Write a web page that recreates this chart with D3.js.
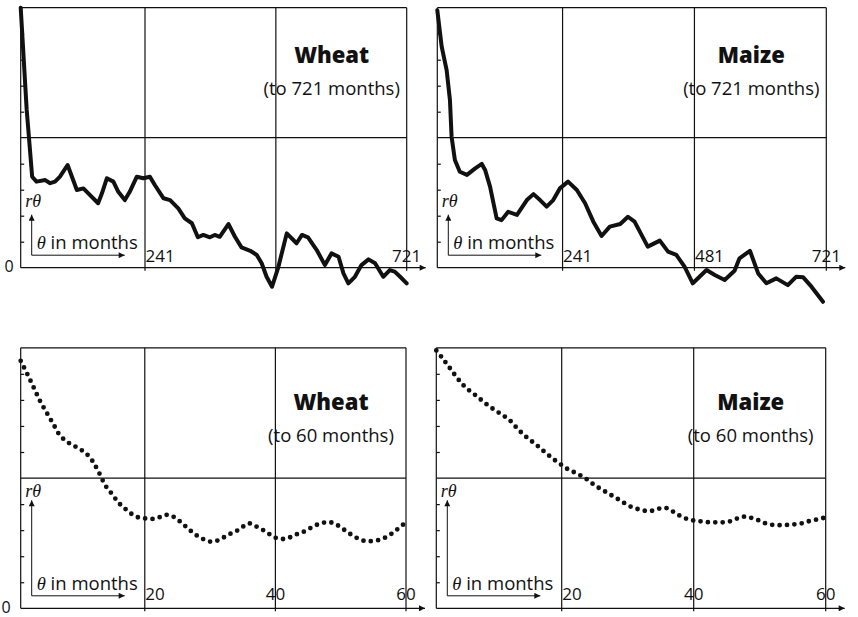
<!DOCTYPE html>
<html>
<head>
<meta charset="utf-8">
<script src="https://cdn.jsdelivr.net/npm/d3@7"></script>
<style>
  body { margin: 0; background: #fff; }
  svg { display: block; }
  text { font-family: "Open Sans", sans-serif; fill: #111; }
</style>
</head>
<body>
<svg id="chart"></svg>
<script>
const svgWidth = 858, svgHeight = 617;

// long correlograms (lag in months -> r)
const wheatLongLag = [13,24,30,34,42,58,67,76,85,99,107,116,128,137,155,162,171,183,192,204,213,226,238,250,259,275,287,302,314,327,338,348,360,369,378,394,406,418,434,446,455,464,474,485,501,519,529,540,556,571,583,596,605,614,626,638,651,663,678,690,699,709,721];
const wheatLongR = [1.0,0.607,0.453,0.35,0.331,0.337,0.325,0.331,0.35,0.395,0.35,0.299,0.305,0.286,0.248,0.286,0.344,0.331,0.292,0.26,0.292,0.35,0.344,0.35,0.318,0.267,0.26,0.228,0.19,0.171,0.117,0.126,0.117,0.126,0.119,0.168,0.119,0.078,0.065,0.049,0.017,-0.035,-0.073,-0.002,0.132,0.094,0.126,0.117,0.068,0.01,0.055,0.042,-0.022,-0.06,-0.035,0.01,0.032,0.017,-0.035,-0.009,-0.015,-0.035,-0.06];

const maizeLongLag = [13,21,30,36,39,45,54,67,82,94,100,109,121,130,142,158,176,188,200,212,224,236,251,267,282,297,312,327,346,360,372,396,418,433,448,463,478,503,518,536,554,563,582,597,612,630,651,666,679,694,715];
const maizeLongR = [0.99,0.85,0.76,0.645,0.504,0.414,0.369,0.357,0.382,0.399,0.376,0.312,0.19,0.183,0.215,0.203,0.26,0.283,0.26,0.235,0.26,0.305,0.331,0.299,0.248,0.177,0.122,0.158,0.168,0.196,0.177,0.081,0.104,0.062,0.049,0.004,-0.06,-0.009,-0.028,-0.047,-0.012,0.036,0.065,-0.022,-0.06,-0.041,-0.067,-0.035,-0.037,-0.073,-0.131];

// short correlograms, one value per month 1..60
const months = d3.range(1, 61);
const wheatShortR = [0.95,0.90,0.847,0.794,0.75,0.707,0.664,0.641,0.626,0.612,
  0.595,0.565,0.52,0.47,0.438,0.405,0.382,0.362,0.349,0.345,
  0.343,0.347,0.358,0.356,0.341,0.32,0.298,0.279,0.265,0.256,
  0.259,0.271,0.285,0.296,0.313,0.326,0.315,0.302,0.286,0.271,
  0.266,0.27,0.282,0.29,0.303,0.317,0.326,0.331,0.326,0.311,
  0.293,0.277,0.264,0.257,0.259,0.263,0.274,0.29,0.31,0.33];
const maizeShortR = [0.99,0.958,0.924,0.89,0.859,0.836,0.817,0.796,0.776,0.759,
  0.742,0.725,0.698,0.672,0.65,0.631,0.609,0.588,0.568,0.55,
  0.533,0.521,0.508,0.492,0.472,0.457,0.442,0.427,0.412,0.396,
  0.385,0.378,0.373,0.376,0.384,0.384,0.369,0.354,0.343,0.337,
  0.334,0.331,0.33,0.33,0.331,0.338,0.349,0.352,0.345,0.336,
  0.325,0.32,0.319,0.32,0.322,0.324,0.331,0.338,0.342,0.35];

const yTicks = [0.1,0.2,0.3,0.4,0.6,0.7,0.8,0.9];

const panels = [
  {title:"Wheat", sub:"(to 721 months)", lags:wheatLongLag, r:wheatLongR, domain:[13,721],
   grid:[241,481,721], labels:[[241,"241","start"],[721,"721","middle"]],
   left:20.7, right:406.7, top:7.7, axisY:267.7, dotted:false, zero:[9,272], row:"top"},
  {title:"Maize", sub:"(to 721 months)", lags:maizeLongLag, r:maizeLongR, domain:[13,721],
   grid:[241,481,721], labels:[[241,"241","start"],[481,"481","start"],[721,"721","middle"]],
   left:437.3, right:826.3, top:7.7, axisY:267.7, dotted:false, zero:null, row:"top"},
  {title:"Wheat", sub:"(to 60 months)", lags:months, r:wheatShortR, domain:[1,60],
   grid:[20,40,60], labels:[[20,"20","start"],[40,"40","middle"],[60,"60","middle"]],
   left:20.7, right:406, top:347.8, axisY:608.3, dotted:true, zero:[6,613], row:"bottom"},
  {title:"Maize", sub:"(to 60 months)", lags:months, r:maizeShortR, domain:[1,60],
   grid:[20,40,60], labels:[[20,"20","start"],[40,"40","middle"],[60,"60","middle"]],
   left:436.3, right:825.7, top:347.8, axisY:608.3, dotted:true, zero:null, row:"bottom"}
];

const chart = d3.select("#chart")
    .attr("width", svgWidth)
    .attr("height", svgHeight);

const defs = chart.append("defs");
defs.append("marker")
    .attr("id", "arrow")
    .attr("viewBox", "0 0 10 10")
    .attr("refX", 10).attr("refY", 5)
    .attr("markerWidth", 8).attr("markerHeight", 6)
    .attr("markerUnits", "userSpaceOnUse")
    .attr("orient", "auto")
  .append("path")
    .attr("d", "M0,0L10,5L0,10z")
    .attr("fill", "#111");

panels.forEach(drawPanel);

function drawPanel(p) {
    const x = d3.scaleLinear().domain(p.domain).range([p.left, p.right]);
    const y = d3.scaleLinear().domain([0, 1]).range([p.axisY, p.top]);
    const g = chart.append("g").attr("stroke", "#111").attr("stroke-width", 1.2);

    // frame: top border, left axis, middle line
    g.append("line").attr("x1", p.left).attr("x2", p.right).attr("y1", y(1)).attr("y2", y(1));
    g.append("line").attr("x1", p.left).attr("x2", p.left).attr("y1", y(1)).attr("y2", y(0));
    g.append("line").attr("x1", p.left).attr("x2", p.right).attr("y1", y(0.5)).attr("y2", y(0.5));

    // vertical grid lines
    g.selectAll(".vgrid").data(p.grid).enter().append("line")
        .attr("x1", d => x(d)).attr("x2", d => x(d))
        .attr("y1", y(1)).attr("y2", y(0) + 3);

    // x axis with arrow
    g.append("line")
        .attr("x1", p.left).attr("x2", p.right + 19)
        .attr("y1", y(0)).attr("y2", y(0))
        .attr("marker-end", "url(#arrow)");

    // small inward ticks on the left axis
    const yAxis = chart.append("g")
        .attr("transform", "translate(" + p.left + ",0)")
        .call(d3.axisLeft(y).tickValues(yTicks).tickSizeInner(-3.5).tickSizeOuter(0).tickFormat(""));
    yAxis.select(".domain").remove();
    yAxis.selectAll("line").attr("stroke", "#111").attr("stroke-width", 1.2);

    // correlogram
    const valueline = d3.line()
        .x((d, i) => x(p.lags[i]))
        .y(d => y(d))
        .curve(p.dotted ? d3.curveCatmullRom : d3.curveLinear);

    const path = chart.append("path")
        .datum(p.r)
        .attr("d", valueline)
        .attr("fill", "none")
        .attr("stroke", "#111")
        .attr("stroke-linejoin", "round")
        .attr("stroke-linecap", "round");
    if (p.dotted) {
        path.attr("stroke-width", 4.8).attr("stroke-dasharray", "0 7.4");
    } else {
        path.attr("stroke-width", 4);
    }

    // tick labels
    const labY = p.row == "top" ? y(0) - 6 : y(0) - 8;
    chart.selectAll(null).data(p.labels).enter().append("text")
        .attr("x", d => x(d[0]) + (d[2] == "start" ? 0.5 : 0))
        .attr("y", labY)
        .attr("text-anchor", d => d[2])
        .style("font-size", "17px")
        .text(d => d[1]);

    if (p.zero) {
        chart.append("text")
            .attr("x", p.zero[0]).attr("y", p.zero[1])
            .attr("text-anchor", "middle")
            .style("font-size", "16px")
            .text("0");
    }

    // title
    const tY = p.row == "top" ? 63 : 410;
    chart.append("text")
        .attr("x", p.right - 75).attr("y", tY)
        .attr("text-anchor", "middle")
        .style("font-size", "22px").style("font-weight", "800")
        .text(p.title);
    chart.append("text")
        .attr("x", p.right - 75).attr("y", tY + 32)
        .attr("text-anchor", "middle")
        .style("font-size", "18.5px")
        .text(p.sub);

    // little key: r(theta) up, theta in months across
    const ax = p.left + 11, ay = y(0) - 12.5;
    const tipY = p.row == "top" ? y(0) - 53 : y(0) - 108;
    const rY = p.row == "top" ? y(0) - 61 : y(0) - 111;
    g.append("line").attr("x1", ax).attr("x2", ax).attr("y1", ay).attr("y2", tipY)
        .attr("stroke-width", 1).attr("marker-end", "url(#arrow)");
    g.append("line").attr("x1", ax).attr("x2", p.left + 104).attr("y1", ay).attr("y2", ay)
        .attr("stroke-width", 1).attr("marker-end", "url(#arrow)");

    chart.append("text")
        .attr("x", p.left + 4.5).attr("y", rY)
        .style("font-family", "'Liberation Serif', serif").style("font-style", "italic")
        .style("font-size", "18px")
        .text("rθ");

    const key = chart.append("text")
        .attr("x", p.left + 16).attr("y", y(0) - 18.5)
        .style("font-size", "18.5px");
    key.append("tspan")
        .style("font-family", "'Liberation Serif', serif").style("font-style", "italic")
        .text("θ");
    key.append("tspan").text(" in months");
}
</script>
</body>
</html>
